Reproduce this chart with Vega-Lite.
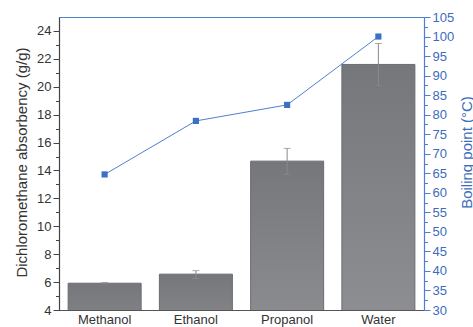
{
  "$schema": "https://vega.github.io/schema/vega-lite/v6.json",
  "width": 365,
  "height": 293,
  "autosize": {"type": "none"},
  "padding": {"left": 59, "top": 17, "right": 49, "bottom": 17},
  "background": "white",
  "config": {
    "view": {"stroke": "#4f7fcf", "strokeWidth": 1},
    "font": "Liberation Sans",
    "axis": {"labelFont": "Liberation Sans", "titleFont": "Liberation Sans", "titleFontWeight": "normal", "labelOverlap": false}
  },
  "datasets": {
    "solvents": [
      {"solvent": "Methanol", "absorb": 5.92, "lo": 5.87, "hi": 5.97, "bp": 64.7},
      {"solvent": "Ethanol", "absorb": 6.57, "lo": 6.25, "hi": 6.82, "bp": 78.4},
      {"solvent": "Propanol", "absorb": 14.67, "lo": 13.72, "hi": 15.58, "bp": 82.5},
      {"solvent": "Water", "absorb": 21.6, "lo": 20.1, "hi": 23.1, "bp": 100}
    ]
  },
  "data": {"name": "solvents"},
  "encoding": {
    "x": {
      "field": "solvent",
      "type": "nominal",
      "sort": null,
      "scale": {"paddingInner": 0.2, "paddingOuter": 0.1},
      "axis": {
        "title": null,
        "labelAngle": 0,
        "ticks": false,
        "labelPadding": 3,
        "labelFontSize": 13,
        "labelColor": "#333333",
        "domainColor": "#555555",
        "domainWidth": 1.2
      }
    }
  },
  "layer": [
    {
      "encoding": {
        "y": {
          "field": "absorb",
          "type": "quantitative",
          "title": "Dichloromethane absorbency (g/g)",
          "scale": {"domain": [4, 25], "nice": false, "zero": false},
          "axis": {
            "orient": "left",
            "values": [4,5,6,7,8,9,10,11,12,13,14,15,16,17,18,19,20,21,22,23,24],
            "labelExpr": "datum.value % 2 === 0 ? datum.label : ''",
            "labelOverlap": false,
            "labelBound": false,
            "tickSize": {"condition": {"test": "datum.value % 2 === 0", "value": 6}, "value": 3.5},
            "labelPadding": 2,
            "labelFontSize": 13,
            "labelColor": "#333333",
            "tickColor": "#444444",
            "domainColor": "#444444",
            "domainWidth": 1.2,
            "grid": false,
            "titleFontSize": 15,
            "titleColor": "#333333",
            "titleAngle": 270,
            "titleAlign": "center",
            "titleBaseline": "middle",
            "titleX": -38,
            "titleY": 145
          }
        }
      },
      "layer": [
        {
          "mark": {
            "type": "bar",
            "clip": true,
            "stroke": "#6b6c70",
            "strokeWidth": 1,
            "color": {
              "gradient": "linear",
              "x1": 0, "y1": 0, "x2": 0, "y2": 1,
              "stops": [
                {"offset": 0, "color": "#76777b"},
                {"offset": 1, "color": "#929397"}
              ]
            }
          }
        },
        {
          "mark": {"type": "rule", "color": "#8a8a8a", "strokeWidth": 1},
          "encoding": {
            "y": {"field": "lo", "type": "quantitative"},
            "y2": {"field": "hi"}
          }
        },
        {
          "mark": {"type": "tick", "color": "#8a8a8a", "size": 7, "thickness": 1},
          "encoding": {
            "y": {"field": "hi", "type": "quantitative"}
          }
        },
        {
          "mark": {"type": "tick", "color": "#8a8a8a", "size": 7, "thickness": 1},
          "encoding": {
            "y": {"field": "lo", "type": "quantitative"}
          }
        }
      ]
    },
    {
      "encoding": {
        "y": {
          "field": "bp",
          "type": "quantitative",
          "title": "Boiling point (°C)",
          "scale": {"domain": [30, 105], "nice": false, "zero": false},
          "axis": {
            "orient": "right",
            "values": [30,32.5,35,37.5,40,42.5,45,47.5,50,52.5,55,57.5,60,62.5,65,67.5,70,72.5,75,77.5,80,82.5,85,87.5,90,92.5,95,97.5,100,102.5,105],
            "labelExpr": "datum.value % 5 === 0 ? datum.label : ''",
            "labelOverlap": false,
            "labelBound": false,
            "tickSize": {"condition": {"test": "datum.value % 5 === 0", "value": 6}, "value": 3.5},
            "labelPadding": 2,
            "labelFontSize": 13,
            "labelColor": "#3c6cbc",
            "tickColor": "#4f7fcf",
            "domainColor": "#4f7fcf",
            "domainWidth": 1.2,
            "grid": false,
            "titleFontSize": 15,
            "titleColor": "#3c6cbc",
            "titleAngle": 270,
            "titleAlign": "center",
            "titleBaseline": "middle",
            "titleX": 42,
            "titleY": 135
          }
        }
      },
      "layer": [
        {"mark": {"type": "line", "color": "#4f80d2", "strokeWidth": 1}},
        {"mark": {"type": "point", "shape": "square", "filled": true, "size": 38, "color": "#3d70c4", "opacity": 1}}
      ]
    }
  ],
  "resolve": {"scale": {"y": "independent"}}
}
